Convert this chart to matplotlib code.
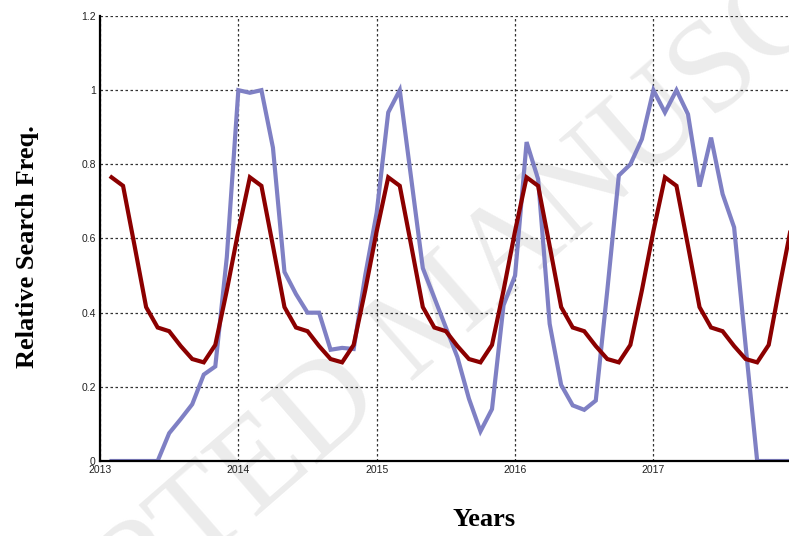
import numpy as np
import matplotlib
matplotlib.use("Agg")
import matplotlib.pyplot as plt

# Monthly observations, Feb 2013 .. Jan 2018 (decimal-year positions)
month_index = list(range(1, 61))
start_year = 2013

# Observed relative search frequency (normalised to the max)
observed = [
    0.0, 0.0, 0.0, 0.0, 0.0, 0.075, 0.113, 0.153, 0.233, 0.255, 0.55, 1.0,
    0.993, 1.0, 0.845, 0.51, 0.45, 0.40, 0.40, 0.30, 0.305, 0.302, 0.50, 0.67,
    0.94, 1.0, 0.76, 0.52, 0.44, 0.36, 0.28, 0.168, 0.08, 0.14, 0.42, 0.50,
    0.86, 0.76, 0.37, 0.205, 0.15, 0.138, 0.163, 0.46, 0.77, 0.80, 0.868, 1.0,
    0.94, 1.0, 0.935, 0.74, 0.872, 0.72, 0.63, 0.31, 0.0, 0.0, 0.0, 0.0,
]

# Seasonal model curve
model = [
    0.765, 0.742, 0.58, 0.415, 0.36, 0.35, 0.31, 0.275, 0.266, 0.313, 0.46, 0.62,
    0.765, 0.742, 0.58, 0.415, 0.36, 0.35, 0.31, 0.275, 0.266, 0.313, 0.46, 0.62,
    0.765, 0.742, 0.58, 0.415, 0.36, 0.35, 0.31, 0.275, 0.266, 0.313, 0.46, 0.62,
    0.765, 0.742, 0.58, 0.415, 0.36, 0.35, 0.31, 0.275, 0.266, 0.313, 0.46, 0.62,
    0.765, 0.742, 0.58, 0.415, 0.36, 0.35, 0.31, 0.275, 0.266, 0.313, 0.48, 0.64,
]

x_ticks = [2013, 2014, 2015, 2016, 2017]
y_ticks = [0, 0.2, 0.4, 0.6, 0.8, 1.0, 1.2]
y_tick_labels = ["0", "0.2", "0.4", "0.6", "0.8", "1", "1.2"]

x = np.array([start_year + m / 12 for m in month_index])

W, H = 789, 536
fig = plt.figure(figsize=(W / 100, H / 100), dpi=100)
ax = fig.add_axes([100 / W, 75 / H, 689 / W, 445 / H])
ax.patch.set_alpha(0)

# faint diagonal watermark behind the plot
fig.text(440 / W, 1 - 315 / H, "ACCEPTED MANUSCRIPT", rotation=41,
         rotation_mode="anchor", ha="center", va="center",
         fontsize=94, family="Liberation Serif", color="#ececec", zorder=-5)

ax.plot(x, observed, color="#7f80c4", lw=3.0, solid_joinstyle="miter", zorder=3)
ax.plot(x, model, color="#8b0000", lw=3.0, solid_joinstyle="miter", zorder=4)

ax.set_xlim(2013, 2017.98)
ax.set_ylim(0, 1.2)
ax.set_xticks(x_ticks)
ax.set_xticklabels([str(t) for t in x_ticks])
ax.set_yticks(y_ticks)
ax.set_yticklabels(y_tick_labels)
ax.tick_params(length=0, labelsize=7.5, colors="#222222", pad=3)
for lab in ax.get_xticklabels() + ax.get_yticklabels():
    lab.set_family("Liberation Sans")

ax.grid(True, color="#333333", linestyle=(0, (2, 2)), lw=0.9)
for side in ("top", "right"):
    ax.spines[side].set_visible(False)
for side in ("left", "bottom"):
    ax.spines[side].set_linewidth(1.6)
    ax.spines[side].set_color("black")
    ax.spines[side].set_zorder(5)

fig.text(28 / W, 1 - 247 / H, "Relative Search Freq.", rotation=90,
         ha="center", va="center", fontsize=19, fontweight="bold",
         family="Liberation Serif")
fig.text(484 / W, 1 - 519 / H, "Years", ha="center", va="center",
         fontsize=19, fontweight="bold", family="Liberation Serif")

fig.savefig("out.png", dpi=100)
